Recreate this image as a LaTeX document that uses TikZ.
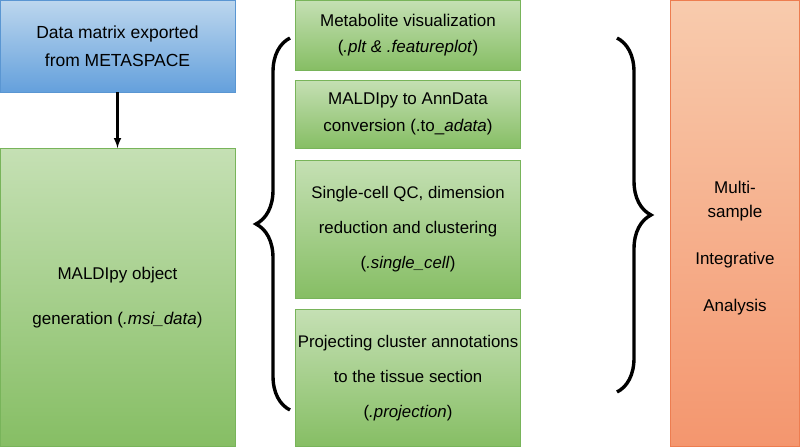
\documentclass[tikz,border=0pt]{standalone}
\usepackage{fontspec}
\setmainfont{Liberation Sans}
\usetikzlibrary{decorations.pathreplacing}
\definecolor{gtop}{RGB}{197,224,180}
\definecolor{gbot}{RGB}{134,190,100}
\definecolor{gline}{RGB}{120,180,90}
\definecolor{btop}{RGB}{189,215,238}
\definecolor{bbot}{RGB}{100,160,220}
\definecolor{bline}{RGB}{90,150,210}
\definecolor{otop}{RGB}{248,203,173}
\definecolor{obot}{RGB}{244,150,110}
\definecolor{oline}{RGB}{237,125,80}
\begin{document}
\begin{tikzpicture}[x=1pt,y=-1pt,
  box/.style={draw=gline,line width=0.8pt,top color=gtop,bottom color=gbot,inner sep=0pt,
    align=center,font=\fontsize{16.8}{35}\selectfont},
  brace/.style={decorate,decoration={brace,amplitude=34pt},line width=3.4pt}]
\useasboundingbox (0,0) rectangle (800,447);
\node[box,draw=bline,top color=btop,bottom color=bbot,minimum width=235,minimum height=92,
  font=\fontsize{17.5}{28}\selectfont] (data) at (117.5,46) {Data matrix exported\\from METASPACE};
\node[box,minimum width=235,minimum height=298,font=\fontsize{17}{45}\selectfont] (obj) at (117.5,297.5) {MALDIpy object\\generation (\textit{.msi\_data})};
\node[box,minimum width=225,minimum height=70,font=\fontsize{17}{26}\selectfont] (viz) at (408,35) {Metabolite visualization\\(\textit{.plt \& .featureplot})};
\node[box,minimum width=225,minimum height=68,font=\fontsize{17}{27}\selectfont] (ann) at (408,114) {MALDIpy to AnnData\\conversion (.to\_\textit{adata})};
\node[box,minimum width=225,minimum height=138] (sc) at (408,229) {Single-cell QC, dimension\\reduction and clustering\\(\textit{.single\_cell})};
\node[box,minimum width=225,minimum height=137] (proj) at (408,378) {Projecting cluster annotations\\to the tissue section\\(\textit{.projection})};
\node[box,draw=oline,top color=otop,bottom color=obot,minimum width=129,minimum height=446] (multi) at (735,223.5) {};
\node[align=center,font=\fontsize{17}{47}\selectfont] (multitext) at (735,248) {Multi-\\[-23pt]sample\\Integrative\\Analysis};
\draw[-latex,line width=2.4pt] (data.south) -- (obj.north);
\coordinate (lb1) at (290,410);
\coordinate (lb2) at (290,38);
\coordinate (rb1) at (617,38);
\coordinate (rb2) at (617,392);
\draw[brace] (lb1) -- (lb2);
\draw[brace] (rb1) -- (rb2);
\end{tikzpicture}
\end{document}
